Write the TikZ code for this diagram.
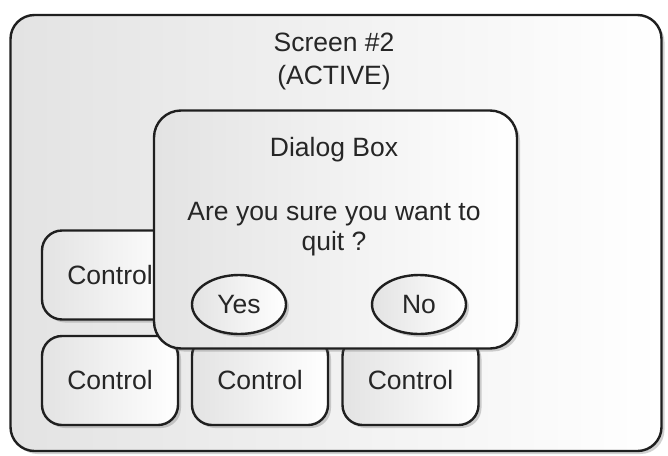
\documentclass[tikz,border=0pt]{standalone}
\usepackage{fontspec}
\setmainfont{Liberation Sans}
\usetikzlibrary{shapes.geometric,shadows}
\begin{document}
\begin{tikzpicture}[x=1pt,y=-1pt,
  shade/.style={left color=black!11, right color=white},
  shd/.style={drop shadow={shadow xshift=3pt,shadow yshift=-3pt,opacity=0.3,fill=black!60}},
  box/.style={draw=black!88, line width=2.4pt, shade, shd, inner sep=0pt},
  lbl/.style={font=\fontsize{26.5}{30}\selectfont, text=black!85, align=center},
  ctrl/.style={box, rounded corners=20pt, minimum width=136pt, minimum height=89pt, lbl},
  btn/.style={box, ellipse, minimum width=94pt, minimum height=59pt, lbl}]
\useasboundingbox (0,0) rectangle (668,455);
% outer screen
\node[box, rounded corners=24pt, minimum width=651pt, minimum height=436pt] (screen) at (336,233) {};
\node[lbl, font=\fontsize{26.5}{33}\selectfont] (title) at (334,61.5) {Screen \#2\\(ACTIVE)};
% controls
\node[ctrl] (c2) at (110,380.5) {Control};
\node[ctrl] (c3) at (260,380.5) {Control};
\node[ctrl] (c4) at (410.5,380.5) {Control};
\node[ctrl] (c1) at (110,275) {Control};
% dialog
\node[box, rounded corners=27pt, minimum width=363pt, minimum height=238pt] (dlg) at (335.5,229.5) {};
\node[lbl] (dtitle) at (334,150) {Dialog Box};
\node[lbl] (dq) at (334,229) {Are you sure you want to\\quit ?};
\node[btn] (yes) at (239,304.5) {Yes};
\node[btn] (no) at (419,304.5) {No};
\end{tikzpicture}
\end{document}
